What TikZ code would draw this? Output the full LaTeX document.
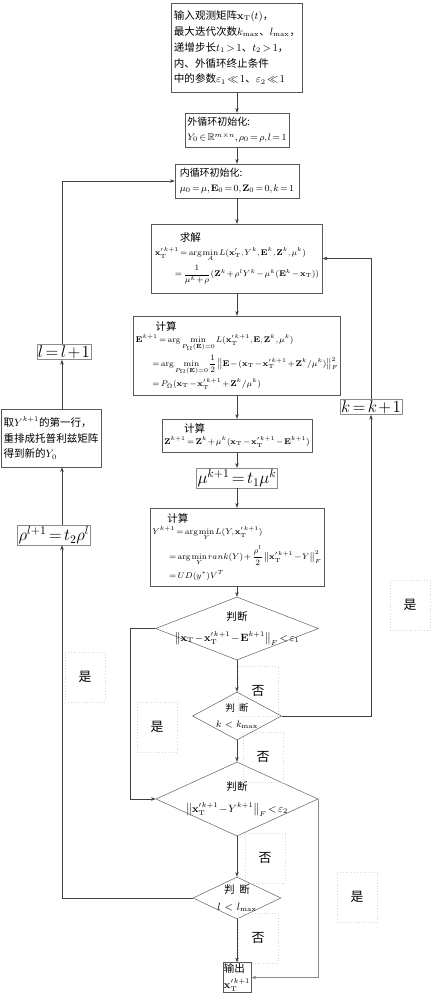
\documentclass[tikz,border=0pt]{standalone}
\usepackage{amsmath,amssymb}
\usepackage[no-math]{fontspec}
\setmainfont{Noto Sans CJK SC}
\usetikzlibrary{shapes.geometric,arrows.meta}
\newcommand{\xT}{\mathbf{x}_{\mathrm{T}}}
\newcommand{\xTk}{\mathbf{x}_{\mathrm{T}}^{\prime\,k+1}}
\thickmuskip=2.5mu
\medmuskip=1.5mu
\thinmuskip=1.5mu

\begin{document}
\begin{tikzpicture}[x=0.03cm,y=-0.03cm,
  box/.style={draw=black!65,align=left,inner sep=2pt,font=\fontsize{9}{13.5}\selectfont},
  mathbox/.style={box,font=\fontsize{7.5}{10}\selectfont},
  decide/.style={draw=black!65,diamond,inner sep=0pt},
  big/.style={draw=black!45,inner sep=1pt,font=\Large},
  arr/.style={draw=black!75,-{Stealth[length=4pt,width=3pt]}},
  tag/.style={draw=black!15,dotted,minimum width=1.2cm,minimum height=1.5cm,font=\fontsize{11}{13}\selectfont}]
\useasboundingbox (0,0) rectangle (439,1000);

% main column
\node[box,minimum width=3.72cm,minimum height=2.67cm] (inp) at (237,47.5)
  {输入观测矩阵$\xT(t)$，\\最大迭代次数$k_{\max}$、$l_{\max}$，\\递增步长$t_1>1$、$t_2>1$，\\内、外循环终止条件\\中的参数$\varepsilon_1\ll1$、$\varepsilon_2\ll1$};
\node[box,font=\fontsize{8.5}{12.5}\selectfont,minimum width=2.79cm,minimum height=1.02cm] (ini1) at (237,130)
  {外循环初始化:\\$Y_0\in\mathbb{R}^{m\times n},\rho_0=\rho,l=1$};
\node[box,font=\fontsize{8.5}{12.5}\selectfont,minimum width=3.72cm,minimum height=1.02cm] (ini2) at (237,181)
  {内循环初始化:\\$\mu_0=\mu,\mathbf{E}_0=0,\mathbf{Z}_0=0,k=1$};
\node[mathbox,minimum width=5.13cm,minimum height=2.07cm] (solve) at (237,258.5)
  {\hspace{0.75cm}{\small 求解}\\[2pt]
   $\xTk=\arg\min\limits_{A}L(\xT^{\prime},Y^k,\mathbf{E}^k,\mathbf{Z}^k,\mu^k)$\\[2pt]
   \hspace{0.6cm}$=\dfrac{1}{\mu^k+\rho}(\mathbf{Z}^k+\rho^lY^k-\mu^k(\mathbf{E}^k-\xT))$};
\node[mathbox,minimum width=5.13cm,minimum height=2.37cm] (calcE) at (237,355.5)
  {\hspace{0.6cm}{\small 计算}\\
   $\mathbf{E}^{k+1}=\arg\min\limits_{P_\Omega(\mathbf{E})=0}L(\xTk,\mathbf{E},\mathbf{Z}^k,\mu^k)$\\[2pt]
   \hspace{0.5cm}$=\arg\min\limits_{P_\Omega(\mathbf{E})=0}\dfrac{1}{2}\left\|\mathbf{E}-(\xT-\xTk+\mathbf{Z}^k/\mu^k)\right\|_F^2$\\[2pt]
   \hspace{0.5cm}$=P_{\bar{\Omega}}(\xT-\xTk+\mathbf{Z}^k/\mu^k)$};
\node[mathbox,minimum width=3.75cm,minimum height=0.99cm] (calcZ) at (237,435.5)
  {\hspace{0.6cm}{\small 计算}\\$\mathbf{Z}^{k+1}=\mathbf{Z}^k+\mu^k(\xT-\xTk-\mathbf{E}^{k+1})$};
\node[big] (mu) at (237,478) {$\mu^{k+1}=t_1\mu^k$};
\node[mathbox,minimum width=4.59cm,minimum height=2.34cm] (calcY) at (237,547)
  {\hspace{0.45cm}{\small 计算}\\
   $Y^{k+1}=\arg\min\limits_{Y}L(Y,\xTk)$\\[3pt]
   \hspace{0.5cm}$=\arg\min\limits_{Y}rank(Y)+\dfrac{\rho^l}{2}\left\|\xTk-Y\right\|_F^2$\\[3pt]
   \hspace{0.5cm}$=UD(y^*)V^T$};

% decisions
\node[decide,minimum width=4.89cm,minimum height=1.89cm] (dec1) at (237,628.5) {};
\node[align=center,font=\fontsize{9}{18}\selectfont] at (dec1)
  {判断\\$\left\|\xT-\xTk-\mathbf{E}^{k+1}\right\|_F<\varepsilon_1$};
\node[decide,minimum width=2.67cm,minimum height=1.44cm] (dec2) at (237,716) {};
\node[align=center,font=\fontsize{8}{14}\selectfont] at (dec2)
  {判\ \ 断\\$k\ <\ k_{\max}$};
\node[decide,minimum width=4.86cm,minimum height=2.22cm] (dec3) at (237,799) {};
\node[align=center,font=\fontsize{9}{19}\selectfont] at (dec3)
  {判断\\$\left\|\xTk-Y^{k+1}\right\|_F<\varepsilon_2$};
\node[decide,minimum width=2.64cm,minimum height=1.26cm] (dec4) at (237,898) {};
\node[align=center,font=\fontsize{9}{14}\selectfont] at (dec4)
  {判\ \ 断\\$l\ <\ l_{\max}$};
\node[box,inner sep=1pt] (out) at (237,977.5) {输出\\$\xTk$};

% side boxes
\node[big] (kup) at (371,407) {$k=k+1$};
\node[big] (lup) at (64,352) {$l=l+1$};
\node[box,minimum width=2.76cm,minimum height=1.74cm] (take) at (51,438)
  {取$Y^{k+1}$的第一行，\\重排成托普利兹矩阵\\得到新的$Y_0$};
\node[big] (rho) at (54,535) {$\rho^{l+1}=t_2\rho^l$};

\coordinate (lft) at (62,0);
\coordinate (mid) at (130,0);

% main flow
\draw[arr] (inp.south) -- (ini1.north);
\draw[arr] (ini1.south) -- (ini2.north);
\draw[arr] (ini2.south) -- (solve.north);
\draw[arr] (solve.south) -- (calcE.north);
\draw[arr] (calcE.south) -- (calcZ.north);
\draw[arr] (calcZ.south) -- (mu.north);
\draw[arr] (mu.south) -- (calcY.north);
\draw[arr] (calcY.south) -- (dec1.north);
\draw[arr] (dec1.south) -- (dec2.north);
\draw[arr] (dec2.south) -- (dec3.north);
\draw[arr] (dec3.south) -- (dec4.north);
\draw[arr] (dec4.south) -- (out.north);

% loops
\draw[arr] (dec2.east) -| (kup.south);
\draw[arr] (kup.north) |- (solve.east);
\draw[arr] (dec1.west) -- (dec1.west -| mid) |- (dec3.west);
\draw[arr,draw=black!45] (dec3.east) |- (out.east);
\draw[arr] (dec4.west) -- (dec4.west -| lft) -- (lft |- rho.south);
\draw[arr] (lft |- rho.north) -- (lft |- take.south);
\draw[arr] (lft |- take.north) -- (lft |- lup.south);
\draw[arr] (lft |- lup.north) |- (ini2.west);

% labels
\node[tag] at (258,691) {否};
\node[tag] at (263,757) {否};
\node[tag] at (265,858) {否};
\node[tag] at (258,938) {否};
\node[tag] at (157,727) {是};
\node[tag] at (410,605) {是};
\node[tag] at (357,897) {是};
\node[tag] at (85,677) {是};
\end{tikzpicture}
\end{document}
